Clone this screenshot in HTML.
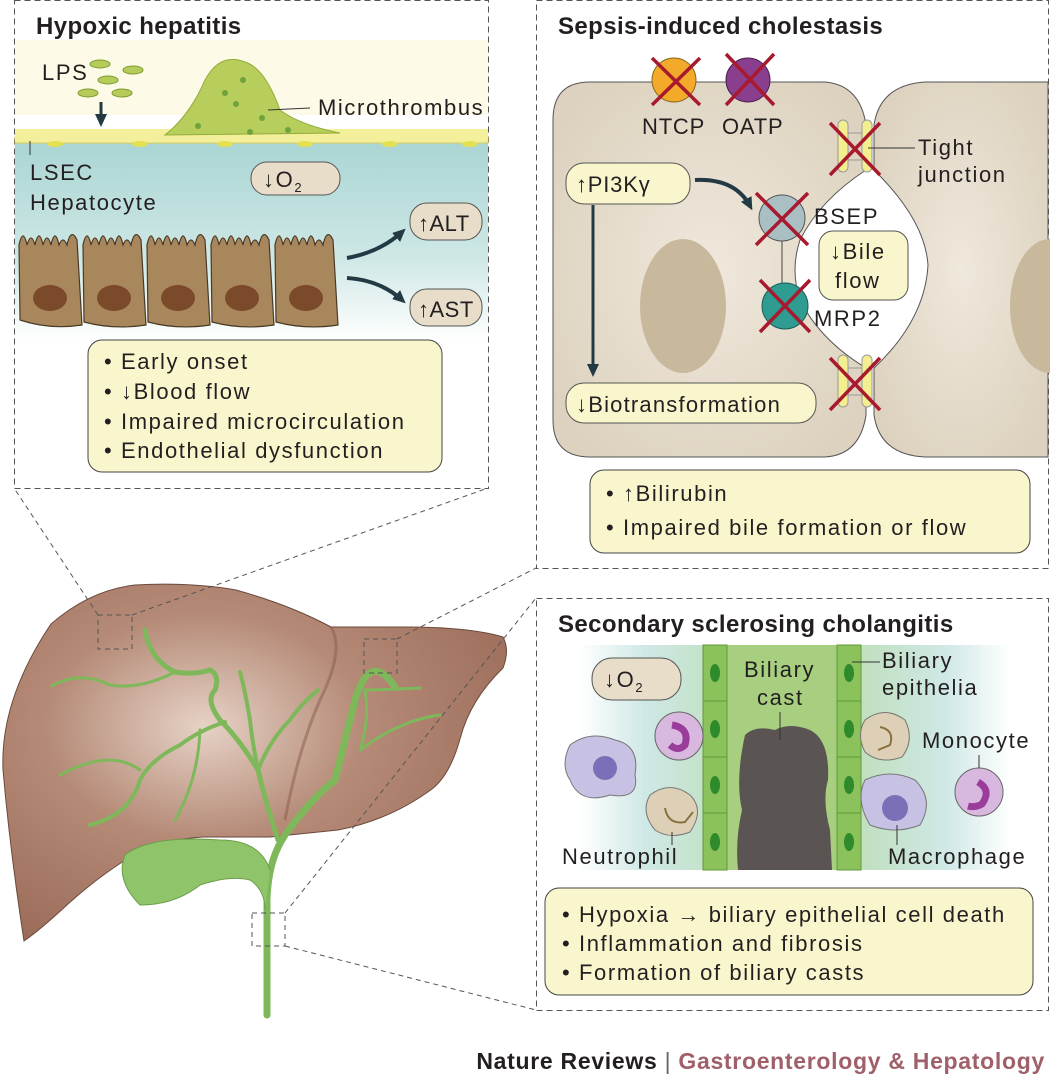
<!DOCTYPE html>
<html><head><meta charset="utf-8"><style>
html,body{margin:0;padding:0;background:#fff}
svg{display:block}
text{font-family:"Liberation Sans",sans-serif;fill:#231f20;font-size:22px;letter-spacing:1.6px}
text.t{font-size:24px;letter-spacing:0.4px;font-weight:bold}
</style></head><body>
<svg width="1050" height="1079" viewBox="0 0 1050 1079" xmlns="http://www.w3.org/2000/svg">
<defs>
<linearGradient id="teal" x1="0" y1="0" x2="0" y2="1">
<stop offset="0" stop-color="#a9d5d3"/><stop offset="0.6" stop-color="#cfe8e6"/><stop offset="1" stop-color="#ffffff"/></linearGradient>
<radialGradient id="liv" cx="0.4" cy="0.4" r="0.7"><stop offset="0" stop-color="#e6d2c6"/><stop offset="0.45" stop-color="#b58a77"/><stop offset="1" stop-color="#9a6b58"/></radialGradient>
<radialGradient id="cell" cx="0.5" cy="0.5" r="0.6"><stop offset="0" stop-color="#efe8dc"/><stop offset="1" stop-color="#ddd2bf"/></radialGradient>
<linearGradient id="band" x1="0" y1="0" x2="1" y2="0"><stop offset="0" stop-color="#fff"/><stop offset="0.15" stop-color="#cfe8e6"/><stop offset="0.5" stop-color="#b4d9a0"/><stop offset="0.85" stop-color="#cfe8e6"/><stop offset="1" stop-color="#fff"/></linearGradient>
<marker id="ah" markerUnits="userSpaceOnUse" markerWidth="14" markerHeight="14" refX="8" refY="7" orient="auto"><path d="M0,1 L13,7 L0,13 z" fill="#233a45"/></marker>
</defs>

<!-- Panel 1 -->
<rect x="14.5" y="0.5" width="474" height="488" fill="none" stroke="#555" stroke-dasharray="6,4"/>
<rect x="15" y="40" width="473" height="75" fill="#fdfbe8"/>
<rect x="15" y="140" width="473" height="200" fill="url(#teal)"/>
<path d="M15,137 Q60,125 100,137 Q140,125 180,137 Q220,125 260,137 Q300,125 340,137 Q380,125 420,137 Q455,125 488,137 L488,143 L15,143 z" fill="#f4ef9a" stroke="#d6cf60"/>
<rect x="15" y="129" width="473" height="12" fill="#f4ef9a"/>
<g fill="#e4e052"><ellipse cx="55" cy="144" rx="8" ry="3"/><ellipse cx="140" cy="144" rx="8" ry="3"/><ellipse cx="225" cy="144" rx="8" ry="3"/><ellipse cx="305" cy="144" rx="8" ry="3"/><ellipse cx="390" cy="144" rx="8" ry="3"/><ellipse cx="470" cy="144" rx="8" ry="3"/></g>
<text class="t" x="36" y="34">Hypoxic hepatitis</text>
<text x="42" y="80">LPS</text>
<g fill="#b5cc5a" stroke="#7f9a2f"><ellipse cx="100" cy="64" rx="10" ry="4"/><ellipse cx="133" cy="70" rx="10" ry="4"/><ellipse cx="108" cy="80" rx="10" ry="4"/><ellipse cx="88" cy="93" rx="10" ry="4"/><ellipse cx="122" cy="93" rx="10" ry="4"/></g>
<line x1="101" y1="102" x2="101" y2="122" stroke="#233a45" stroke-width="3" marker-end="url(#ah)"/>
<path d="M165,135 Q190,115 205,80 Q220,52 245,62 Q265,68 280,110 Q300,125 340,133 z" fill="#b7cd5c" stroke="#93ad3a"/>
<g fill="#6fa23a"><circle cx="225" cy="93" r="3"/><circle cx="236" cy="104" r="3"/><circle cx="262" cy="118" r="3"/><circle cx="250" cy="132" r="3"/><circle cx="198" cy="126" r="3"/><circle cx="288" cy="130" r="3"/><circle cx="243" cy="80" r="3"/></g>
<line x1="268" y1="110" x2="310" y2="108" stroke="#333"/>
<text x="318" y="115">Microthrombus</text>
<line x1="30" y1="141" x2="30" y2="155" stroke="#333"/>
<text x="30" y="180">LSEC</text>
<text x="30" y="210">Hepatocyte</text>
<rect x="251" y="162" width="89" height="33" rx="16" fill="#e8ddc9" stroke="#555"/>
<text x="263" y="187">↓O<tspan font-size="13" dy="5">2</tspan></text>
<g fill="#a9875c" stroke="#4a3a26" stroke-width="1.2">
<path d="M19,245 q4,-18 8,0 q4,-14 8,0 q4,-18 8,0 q4,-14 8,0 q4,-18 8,0 q4,-10 8,0 q4,-18 10,-5 L82,325 Q50,330 20,320 z"/>
<path d="M83,245 q4,-18 8,0 q4,-14 8,0 q4,-18 8,0 q4,-14 8,0 q4,-18 8,0 q4,-10 8,0 q4,-18 10,-5 L146,325 Q114,330 84,322 z"/>
<path d="M147,245 q4,-18 8,0 q4,-14 8,0 q4,-18 8,0 q4,-14 8,0 q4,-18 8,0 q4,-10 8,0 q4,-18 10,-5 L210,325 Q178,330 148,322 z"/>
<path d="M211,245 q4,-18 8,0 q4,-14 8,0 q4,-18 8,0 q4,-14 8,0 q4,-18 8,0 q4,-10 8,0 q4,-18 10,-5 L274,325 Q242,330 212,322 z"/>
<path d="M275,245 q4,-18 8,0 q4,-14 8,0 q4,-18 8,0 q4,-14 8,0 q4,-18 8,0 q4,-10 8,0 q4,-18 10,-5 L338,325 Q306,330 276,322 z"/>
</g>
<g fill="#7a4a2a"><ellipse cx="50" cy="298" rx="17" ry="13"/><ellipse cx="114" cy="298" rx="17" ry="13"/><ellipse cx="178" cy="298" rx="17" ry="13"/><ellipse cx="242" cy="298" rx="17" ry="13"/><ellipse cx="306" cy="298" rx="17" ry="13"/></g>
<path d="M347,258 Q380,252 402,232" fill="none" stroke="#233a45" stroke-width="4" marker-end="url(#ah)"/>
<path d="M347,278 Q380,280 402,300" fill="none" stroke="#233a45" stroke-width="4" marker-end="url(#ah)"/>
<rect x="410" y="203" width="72" height="37" rx="17" fill="#e8ddc9" stroke="#555"/>
<text x="418" y="231" style="letter-spacing:0.5px">↑ALT</text>
<rect x="410" y="289" width="72" height="37" rx="17" fill="#e8ddc9" stroke="#555"/>
<text x="418" y="317" style="letter-spacing:0.5px">↑AST</text>
<rect x="88" y="340" width="354" height="132" rx="14" fill="#f9f6cd" stroke="#444"/>
<g><text x="104" y="369">• Early onset</text><text x="104" y="399">• ↓Blood flow</text><text x="104" y="429">• Impaired microcirculation</text><text x="104" y="458">• Endothelial dysfunction</text></g>

<!-- Panel 2 -->
<rect x="536.5" y="0.5" width="512" height="568" fill="none" stroke="#555" stroke-dasharray="6,4"/>
<text class="t" x="558" y="34">Sepsis-induced cholestasis</text>
<path d="M590,82 L825,82 Q860,85 866,125 L866,170 Q820,200 800,240 Q790,270 800,300 Q820,340 866,368 L866,415 Q860,455 825,457 L590,457 Q553,457 553,420 L553,120 Q553,82 590,82 z" fill="url(#cell)" stroke="#555"/>
<path d="M1048,82 L925,82 Q880,85 874,125 L874,170 Q925,220 928,265 Q925,320 874,368 L874,415 Q880,455 925,457 L1048,457 z" fill="url(#cell)" stroke="#555"/>
<ellipse cx="683" cy="306" rx="43" ry="67" fill="#c9b99c"/>
<ellipse cx="1050" cy="306" rx="40" ry="67" fill="#c9b99c"/>
<g fill="#f3ef90" stroke="#999"><rect x="838" y="120" width="10" height="52" rx="5"/><rect x="862" y="120" width="10" height="52" rx="5"/><rect x="838" y="355" width="10" height="52" rx="5"/><rect x="862" y="355" width="10" height="52" rx="5"/></g>
<g stroke="#999"><line x1="848" y1="133" x2="862" y2="133"/><line x1="848" y1="160" x2="862" y2="160"/><line x1="848" y1="368" x2="862" y2="368"/><line x1="848" y1="395" x2="862" y2="395"/></g>
<circle cx="674" cy="80" r="22" fill="#f3a92a" stroke="#8a6a20"/>
<circle cx="748" cy="80" r="22" fill="#8a3e8e" stroke="#4a2050"/>
<circle cx="782" cy="218" r="23" fill="#a9bfc4" stroke="#555"/>
<circle cx="785" cy="306" r="23" fill="#2e9c91" stroke="#1a5a55"/>
<line x1="782" y1="241" x2="782" y2="283" stroke="#444"/>
<g stroke="#a8192e" stroke-width="3.5">
<path d="M652,58 L700,105 M700,58 L652,105"/><path d="M726,54 L774,105 M774,54 L726,105"/>
<path d="M756,193 L808,245 M808,193 L756,245"/><path d="M760,280 L810,332 M810,280 L760,332"/>
<path d="M830,123 L880,175 M880,123 L830,175"/><path d="M830,358 L880,410 M880,358 L830,410"/>
</g>
<line x1="868" y1="148" x2="915" y2="148" stroke="#333"/>
<text x="918" y="155">Tight</text><text x="918" y="182">junction</text>
<text x="814" y="224">BSEP</text>
<text x="814" y="326">MRP2</text>
<text x="642" y="134" style="letter-spacing:0.8px">NTCP</text><text x="722" y="134" style="letter-spacing:0.8px">OATP</text>
<rect x="819" y="231" width="89" height="69" rx="14" fill="#f9f6cd" stroke="#555"/>
<text x="830" y="259">↓Bile</text><text x="835" y="288">flow</text>
<rect x="566" y="163" width="124" height="41" rx="18" fill="#f9f6cd" stroke="#555"/>
<text x="576" y="192" style="letter-spacing:0.8px">↑PI3Kγ</text>
<path d="M695,180 Q735,178 750,206" fill="none" stroke="#233a45" stroke-width="4" marker-end="url(#ah)"/>
<line x1="593" y1="205" x2="593" y2="372" stroke="#233a45" stroke-width="3" marker-end="url(#ah)"/>
<rect x="566" y="383" width="250" height="40" rx="18" fill="#f9f6cd" stroke="#555"/>
<text x="576" y="412" style="letter-spacing:1.2px">↓Biotransformation</text>
<rect x="590" y="470" width="440" height="83" rx="14" fill="#f9f6cd" stroke="#444"/>
<g><text x="606" y="501">• ↑Bilirubin</text><text x="606" y="535">• Impaired bile formation or flow</text></g>

<!-- Panel 3 -->
<rect x="536.5" y="598.5" width="512" height="412" fill="none" stroke="#555" stroke-dasharray="6,4"/>
<text class="t" x="558" y="632">Secondary sclerosing cholangitis</text>
<rect x="580" y="645" width="430" height="225" fill="url(#band)"/>
<rect x="727" y="645" width="110" height="225" fill="#a8cf7f"/>
<g fill="#8cc25c" stroke="#5f9a38"><rect x="703" y="645" width="24" height="56"/><rect x="703" y="701" width="24" height="56"/><rect x="703" y="757" width="24" height="56"/><rect x="703" y="813" width="24" height="57"/><rect x="837" y="645" width="24" height="56"/><rect x="837" y="701" width="24" height="56"/><rect x="837" y="757" width="24" height="56"/><rect x="837" y="813" width="24" height="57"/></g>
<g fill="#2f8a2c"><ellipse cx="715" cy="673" rx="5" ry="9"/><ellipse cx="715" cy="729" rx="5" ry="9"/><ellipse cx="715" cy="785" rx="5" ry="9"/><ellipse cx="715" cy="842" rx="5" ry="9"/><ellipse cx="849" cy="673" rx="5" ry="9"/><ellipse cx="849" cy="729" rx="5" ry="9"/><ellipse cx="849" cy="785" rx="5" ry="9"/><ellipse cx="849" cy="842" rx="5" ry="9"/></g>
<path d="M745,735 Q755,725 775,730 Q790,722 810,730 Q830,740 828,780 Q822,800 830,830 L832,870 L738,870 Q735,840 742,810 Q735,780 745,735 z" fill="#5a5452"/>
<text x="744" y="677">Biliary</text><text x="757" y="705">cast</text>
<line x1="780" y1="712" x2="780" y2="740" stroke="#333"/>
<line x1="852" y1="662" x2="880" y2="662" stroke="#333"/>
<text x="882" y="668">Biliary</text><text x="882" y="695">epithelia</text>
<rect x="592" y="658" width="89" height="42" rx="20" fill="#e8ddc9" stroke="#555"/>
<text x="604" y="687">↓O<tspan font-size="13" dy="5">2</tspan></text>
<path d="M570,745 Q590,730 615,740 Q640,745 635,775 Q640,800 610,795 Q580,805 570,780 Q560,765 570,745 z" fill="#c7c2e3" stroke="#777"/>
<circle cx="605" cy="768" r="12" fill="#7b6fb8"/>
<circle cx="679" cy="736" r="24" fill="#d9b8e0" stroke="#666"/>
<path d="M672,725 Q690,728 685,745 Q678,752 670,745" fill="none" stroke="#9a3d9a" stroke-width="7"/>
<path d="M650,795 Q670,780 690,795 Q705,810 690,832 Q670,840 655,830 Q640,812 650,795 z" fill="#ddd0b6" stroke="#777"/>
<path d="M665,808 Q668,825 685,822 L693,812" fill="none" stroke="#8a7040" stroke-width="2"/>
<path d="M865,720 Q885,705 905,720 Q915,740 902,757 Q880,765 865,752 Q856,735 865,720 z" fill="#ddd0b6" stroke="#777"/>
<path d="M880,727 Q895,730 890,745 L878,750" fill="none" stroke="#8a7040" stroke-width="2"/>
<path d="M865,780 Q890,768 915,780 Q935,800 920,825 Q895,835 870,825 Q855,800 865,780 z" fill="#c7c2e3" stroke="#777"/>
<circle cx="895" cy="808" r="13" fill="#7b6fb8"/>
<circle cx="979" cy="792" r="24" fill="#d9b8e0" stroke="#666"/>
<path d="M978,782 Q992,790 982,804 Q975,808 968,806" fill="none" stroke="#9a3d9a" stroke-width="7"/>
<text x="922" y="748">Monocyte</text>
<line x1="979" y1="755" x2="979" y2="768" stroke="#333"/>
<text x="562" y="864">Neutrophil</text>
<line x1="672" y1="832" x2="672" y2="845" stroke="#333"/>
<text x="888" y="864">Macrophage</text>
<line x1="897" y1="825" x2="897" y2="845" stroke="#333"/>
<rect x="545" y="888" width="488" height="107" rx="14" fill="#f9f6cd" stroke="#444"/>
<g><text x="562" y="922">• Hypoxia → biliary epithelial cell death</text><text x="562" y="951">• Inflammation and fibrosis</text><text x="562" y="980">• Formation of biliary casts</text></g>

<!-- Liver -->
<path d="M24,941 Q10,850 3,770 Q0,700 51,624 Q90,590 135,585 Q190,582 236,590 Q290,605 331,627 L405,627 Q470,627 503,637 Q510,650 503,668 Q470,700 460,739 Q450,775 432,789 Q390,820 338,830 L270,837 L203,837 Q160,840 135,854 Q100,875 68,904 Q40,930 24,941 z" fill="url(#liv)" stroke="#6b4a3c"/>
<path d="M331,627 Q345,650 320,700 Q298,750 285,820" fill="none" stroke="#8a5a48" stroke-width="3" opacity="0.5"/>
<g fill="none" stroke="#7fb85a" stroke-linecap="round">
<path d="M267,1015 L267,900 Q268,860 285,835 Q310,800 335,780 Q345,740 355,700 Q370,650 395,687" stroke-width="7"/>
<path d="M278,840 Q265,800 258,770 Q240,740 220,720 Q205,700 215,690 Q220,675 210,670 Q195,675 175,672 Q150,660 145,630" stroke-width="5"/>
<path d="M258,770 Q270,740 290,720 Q300,705 318,690" stroke-width="4"/>
<path d="M258,770 Q252,740 250,720 Q245,690 240,672" stroke-width="4"/>
<path d="M225,722 Q200,730 180,745 Q150,760 140,780 Q130,815 90,825" stroke-width="4"/>
<path d="M200,730 Q198,780 175,820" stroke-width="3"/>
<path d="M175,672 Q140,690 110,685 Q80,670 52,686" stroke-width="3"/>
<path d="M140,770 Q110,748 60,775" stroke-width="3"/>
<path d="M360,750 Q370,720 365,690 Q380,690 420,688" stroke-width="3"/>
<path d="M360,750 Q400,720 440,715" stroke-width="3"/>
</g>
<path d="M270,870 Q260,840 220,840 Q150,835 125,855 Q115,880 140,905 Q175,905 200,885 Q230,875 250,880 Q265,890 265,910" fill="#8fc46b" stroke="#6a9e48"/>
<g fill="none" stroke="#555" stroke-dasharray="5,4">
<rect x="98" y="615" width="34" height="34"/><rect x="364" y="639" width="33" height="34"/><rect x="252" y="913" width="33" height="33"/>
<line x1="98" y1="615" x2="14" y2="488"/><line x1="132" y1="615" x2="488" y2="488"/>
<line x1="397" y1="639" x2="536" y2="568"/><line x1="285" y1="913" x2="536" y2="598"/><line x1="285" y1="946" x2="536" y2="1010"/>
</g>

<text x="1045" y="1069" text-anchor="end" style="font-size:23px;letter-spacing:0.7px;font-weight:bold">Nature Reviews <tspan font-weight="normal" fill="#666">|</tspan> <tspan fill="#a0606a">Gastroenterology &amp; Hepatology</tspan></text>
</svg>
</body></html>
